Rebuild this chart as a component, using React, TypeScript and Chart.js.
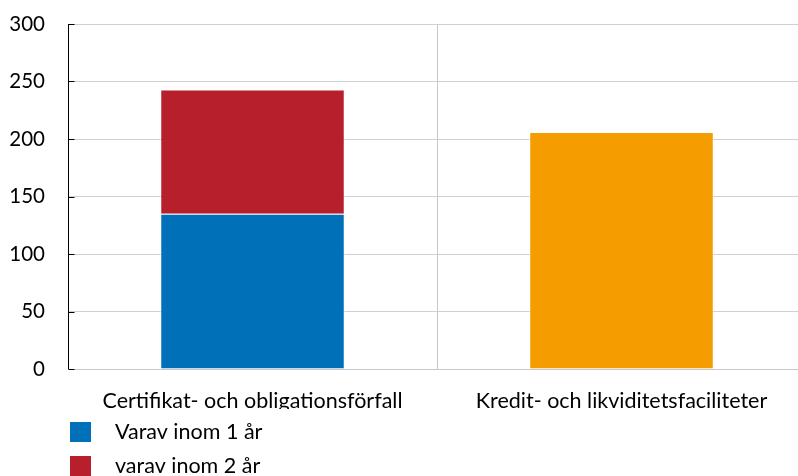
import React, { useEffect, useRef } from 'react';
import { Chart, registerables } from 'chart.js';

Chart.register(...registerables);

const categories = ['Certifikat- och obligationsförfall', 'Kredit- och likviditetsfaciliteter'];
const seriesNames = ['Varav inom 1 år', 'varav inom 2 år', 'Kredit- och likviditetsfaciliteter'];
const varavInom1Ar: (number | null)[] = [135, null];
const varavInom2Ar: (number | null)[] = [108, null];
const kreditOchLikviditet: (number | null)[] = [null, 206];
const seriesColors = ['#0070b9', '#b81f2d', '#f59c00'];
const yMin = 0;
const yMax = 300;
const yStep = 50;

const FONT = 'Lato, "Open Sans", sans-serif';

const axisPlugin = {
  id: 'axisDecor',
  afterDatasetsDraw(chart: any) {
    const { ctx, chartArea, scales } = chart;
    const y = scales.y;
    ctx.save();
    ctx.strokeStyle = '#000';
    ctx.lineWidth = 1;
    const x0 = Math.round(chartArea.left) + 0.5;
    ctx.beginPath();
    ctx.moveTo(x0, chartArea.top);
    ctx.lineTo(x0, chartArea.bottom);
    y.ticks.forEach((t: any) => {
      const py = Math.round(y.getPixelForValue(t.value)) + 0.5;
      ctx.moveTo(x0, py);
      ctx.lineTo(x0 + 6, py);
    });
    ctx.stroke();
    ctx.restore();
  },
};

const legendPlugin = {
  id: 'stackLegend',
  afterDraw(chart: any) {
    const { ctx, chartArea } = chart;
    ctx.save();
    ctx.font = `21.5px ${FONT}`;
    ctx.textBaseline = 'middle';
    ctx.textAlign = 'left';
    chart.data.datasets.forEach((ds: any, i: number) => {
      const top = chartArea.bottom + 53 + i * 34;
      ctx.fillStyle = ds.backgroundColor;
      ctx.fillRect(70, top, 21, 20);
      ctx.fillStyle = '#000';
      ctx.fillText(ds.label, 115, top + 10);
    });
    ctx.restore();
  },
};

export default function App() {
  const ref = useRef<HTMLCanvasElement>(null);
  useEffect(() => {
    if (!ref.current) return;
    const chart = new Chart(ref.current, {
      type: 'bar',
      data: {
        labels: categories,
        datasets: [
          { label: seriesNames[0], data: varavInom1Ar, backgroundColor: seriesColors[0] },
          { label: seriesNames[1], data: varavInom2Ar, backgroundColor: seriesColors[1] },
          { label: seriesNames[2], data: kreditOchLikviditet, backgroundColor: seriesColors[2] },
        ].map((d) => ({
          ...d,
          barPercentage: 0.5,
          categoryPercentage: 1.0,
          borderWidth: 1,
          borderColor: 'rgba(255,255,255,0.6)',
        })),
      },
      options: {
        animation: false,
        responsive: false,
        layout: { padding: { left: 0, right: 14, top: 24, bottom: 67 } },
        plugins: { legend: { display: false }, tooltip: { enabled: false } },
        scales: {
          x: {
            stacked: true,
            grid: {
              offset: true,
              drawTicks: false,
              color: (c: any) => (c.index === 0 ? 'rgba(0,0,0,0)' : '#c8c8c8'),
            },
            border: { display: true, color: '#c8c8c8' },
            ticks: { color: '#000', font: { family: FONT, size: 21.5 }, padding: 19 },
            afterFit: (s: any) => {
              s.height = 40;
            },
          },
          y: {
            stacked: true,
            min: yMin,
            max: yMax,
            ticks: { stepSize: yStep, color: '#000', font: { family: FONT, size: 20.5 }, padding: 0 },
            grid: { color: '#d0d0d0', drawTicks: true, tickLength: 23, tickColor: 'rgba(0,0,0,0)' },
            border: { display: false },
            afterFit: (s: any) => {
              s.width = 68;
            },
          },
        },
      },
      plugins: [axisPlugin, legendPlugin],
    });
    return () => chart.destroy();
  }, []);
  return (
    <div style={{ position: 'fixed', left: 0, top: 0, width: 820, height: 476, background: '#fff' }}>
      <canvas ref={ref} width={820} height={476} style={{ display: 'block' }} />
    </div>
  );
}
